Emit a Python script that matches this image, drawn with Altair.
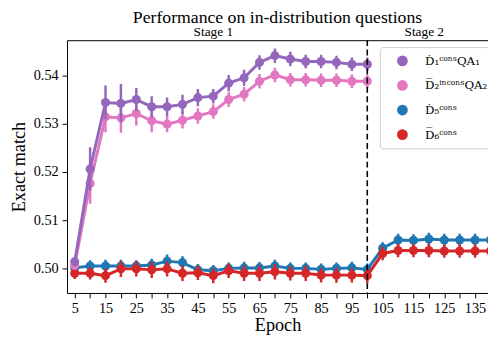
import altair as alt
import pandas as pd

# ---------------- data ----------------
epochs_s1 = [5, 10, 15, 20, 25, 30, 35, 40, 45, 50, 55, 60, 65, 70, 75, 80, 85, 90, 95, 100]
epochs_s2 = [105, 110, 115, 120, 125, 130, 135, 140]

labels = ["Ḋ₁ᶜᵒⁿˢQA₁", "D̅₂ⁱⁿᶜᵒⁿˢQA₂", "Ḋ₅ᶜᵒⁿˢ", "D̅₆ᶜᵒⁿˢ"]
colors = ["#9467bd", "#e377c2", "#1f77b4", "#d62728"]

d1_mean = [0.5014, 0.5206, 0.5344, 0.5342, 0.5350, 0.5335, 0.5335, 0.5340, 0.5354, 0.5357,
           0.5384, 0.5395, 0.5427, 0.5441, 0.5434, 0.5429, 0.5429, 0.5427, 0.5423, 0.5423]
d1_err = [0.0006, 0.0045, 0.0035, 0.0040, 0.0024, 0.0022, 0.0019, 0.0020, 0.0018, 0.0015,
          0.0017, 0.0017, 0.0015, 0.0015, 0.0015, 0.0014, 0.0014, 0.0014, 0.0014, 0.0014]

d2_mean = [0.5006, 0.5176, 0.5314, 0.5312, 0.5321, 0.5306, 0.5299, 0.5307, 0.5316, 0.5325,
           0.5350, 0.5361, 0.5388, 0.5401, 0.5391, 0.5391, 0.5390, 0.5390, 0.5388, 0.5388]
d2_err = [0.0006, 0.0042, 0.0032, 0.0031, 0.0025, 0.0024, 0.0017, 0.0017, 0.0016, 0.0015,
          0.0015, 0.0015, 0.0015, 0.0015, 0.0014, 0.0014, 0.0014, 0.0014, 0.0014, 0.0014]

d5_mean = [0.5001, 0.5005, 0.5005, 0.5005, 0.5005, 0.5007, 0.5015, 0.5012, 0.4997, 0.4995,
           0.5000, 0.5001, 0.5001, 0.5005, 0.5000, 0.5000, 0.4998, 0.5000, 0.5001, 0.4998,
           0.5042, 0.5059, 0.5058, 0.5061, 0.5059, 0.5059, 0.5059, 0.5059]
d5_err = [0.0012, 0.0012, 0.0013, 0.0013, 0.0012, 0.0013, 0.0014, 0.0013, 0.0012, 0.0012,
          0.0012, 0.0013, 0.0012, 0.0013, 0.0012, 0.0012, 0.0012, 0.0012, 0.0013, 0.0012,
          0.0012, 0.0013, 0.0013, 0.0013, 0.0013, 0.0013, 0.0013, 0.0013]

d6_mean = [0.4990, 0.4990, 0.4985, 0.4999, 0.4999, 0.4997, 0.4999, 0.4990, 0.4991, 0.4985,
           0.4995, 0.4990, 0.4990, 0.4993, 0.4990, 0.4990, 0.4986, 0.4986, 0.4986, 0.4985,
           0.5031, 0.5037, 0.5037, 0.5037, 0.5036, 0.5036, 0.5036, 0.5036]
d6_err = [0.0012, 0.0013, 0.0015, 0.0017, 0.0016, 0.0017, 0.0016, 0.0016, 0.0015, 0.0016,
          0.0015, 0.0016, 0.0016, 0.0016, 0.0015, 0.0016, 0.0015, 0.0016, 0.0015, 0.0016,
          0.0014, 0.0014, 0.0014, 0.0014, 0.0014, 0.0014, 0.0014, 0.0014]

x_ticks = [5, 10, 15, 20, 25, 30, 35, 40, 45, 50, 55, 60, 65, 70, 75, 80, 85, 90, 95, 100,
           105, 110, 115, 120, 125, 130, 135]
y_ticks = [0.50, 0.51, 0.52, 0.53, 0.54]

stage_names = ["Stage 1", "Stage 2"]
stage_pos = [50, 118.5]
stage_boundary = [100]

# ---------------- tables ----------------
rows = []
series = [
    (labels[0], epochs_s1, d1_mean, d1_err),
    (labels[1], epochs_s1, d2_mean, d2_err),
    (labels[2], epochs_s1 + epochs_s2, d5_mean, d5_err),
    (labels[3], epochs_s1 + epochs_s2, d6_mean, d6_err),
]
for name, eps, means, errs in series:
    for e, m, s in zip(eps, means, errs):
        rows.append({"series": name, "epoch": e, "value": m, "lo": m - s, "hi": m + s})
df = pd.DataFrame(rows)

stages_df = pd.DataFrame({"epoch": stage_pos, "text": stage_names})
bound_df = pd.DataFrame({"epoch": stage_boundary})

SERIF = "Liberation Serif, DejaVu Serif, serif"

x_scale = alt.Scale(domain=[2.5, 139.2], nice=False, zero=False)
y_scale = alt.Scale(domain=[0.4949, 0.5473], nice=False, zero=False)
color_scale = alt.Scale(domain=labels, range=colors)

x_axis = alt.Axis(orient="bottom", values=x_ticks, title="Epoch", grid=False,
                  labelExpr="datum.value % 10 == 5 ? datum.label : ''",
                  labelOverlap=False, labelFlush=False, tickSize=5, labelPadding=4,
                  titlePadding=1)
y_axis = alt.Axis(orient="left", values=y_ticks, format=".2f", title="Exact match",
                  grid=False, tickSize=5, labelPadding=4, titlePadding=5)

legend = alt.Legend(title=None, orient="none", legendX=318, legendY=7, padding=8,
                    fillColor="white", strokeColor="#cccccc", cornerRadius=3,
                    labelFont="DejaVu Serif", labelFontSize=12, symbolSize=120,
                    symbolType="circle", rowPadding=13, labelOffset=17, symbolOffset=9,
                    symbolStrokeWidth=0, symbolOpacity=1)

X = alt.X("epoch:Q", scale=x_scale, axis=x_axis)
C_nolegend = alt.Color("series:N", scale=color_scale, legend=None)
C_legend = alt.Color("series:N", scale=color_scale, legend=legend)

base = alt.Chart(df)

layers = []
draw_order = [labels[2], labels[3], labels[1], labels[0]]
for name in draw_order:
    sub = base.transform_filter(alt.datum.series == name)
    # points first (same colour as the line, so order within a series is invisible)
    pts = sub.mark_circle(size=85, opacity=1, clip=True).encode(
        x=X,
        y=alt.Y("value:Q", scale=y_scale, axis=y_axis),
        color=C_legend,
    )
    line = sub.mark_line(strokeWidth=3, clip=True).encode(
        x=X,
        y=alt.Y("value:Q", scale=y_scale, axis=y_axis),
        color=C_nolegend,
    )
    bars = sub.mark_rule(strokeWidth=2.5, clip=True).encode(
        x=X,
        y=alt.Y("lo:Q", scale=y_scale, axis=y_axis),
        y2="hi:Q",
        color=C_nolegend,
    )
    layers += [pts, line, bars]

data_layer = alt.layer(*layers)

divider = alt.Chart(bound_df).mark_rule(color="black", strokeWidth=1.6, strokeDash=[6, 3.5]).encode(
    x=alt.X("epoch:Q", scale=x_scale,
            axis=alt.Axis(orient="top", labels=False, ticks=False, title=None, grid=False)),
)

stage_text = alt.Chart(stages_df).mark_text(font=SERIF, fontSize=13.5, baseline="alphabetic",
                                            color="black").encode(
    x=alt.X("epoch:Q", scale=x_scale, axis=None),
    y=alt.value(-4),
    text="text:N",
)

chart = alt.layer(data_layer, divider, stage_text).properties(
    width=428,
    height=257,
    padding={"left": 60, "top": 30, "right": 0, "bottom": 42},
    autosize=alt.AutoSizeParams(type="none"),
    title=alt.TitleParams("Performance on in-distribution questions", font=SERIF, fontSize=18,
                          fontWeight="normal", anchor="middle", frame="group", offset=-1.5,
                          color="black"),
).configure_view(stroke=None).configure_axis(
    domainColor="black", tickColor="black", labelColor="black", titleColor="black",
    labelFont=SERIF, titleFont=SERIF, labelFontSize=14.5, titleFontSize=18.5,
    titleFontWeight="normal", domainWidth=1, tickWidth=1,
)

chart.save("out.html", embed_options={"renderer": "svg", "actions": False})
